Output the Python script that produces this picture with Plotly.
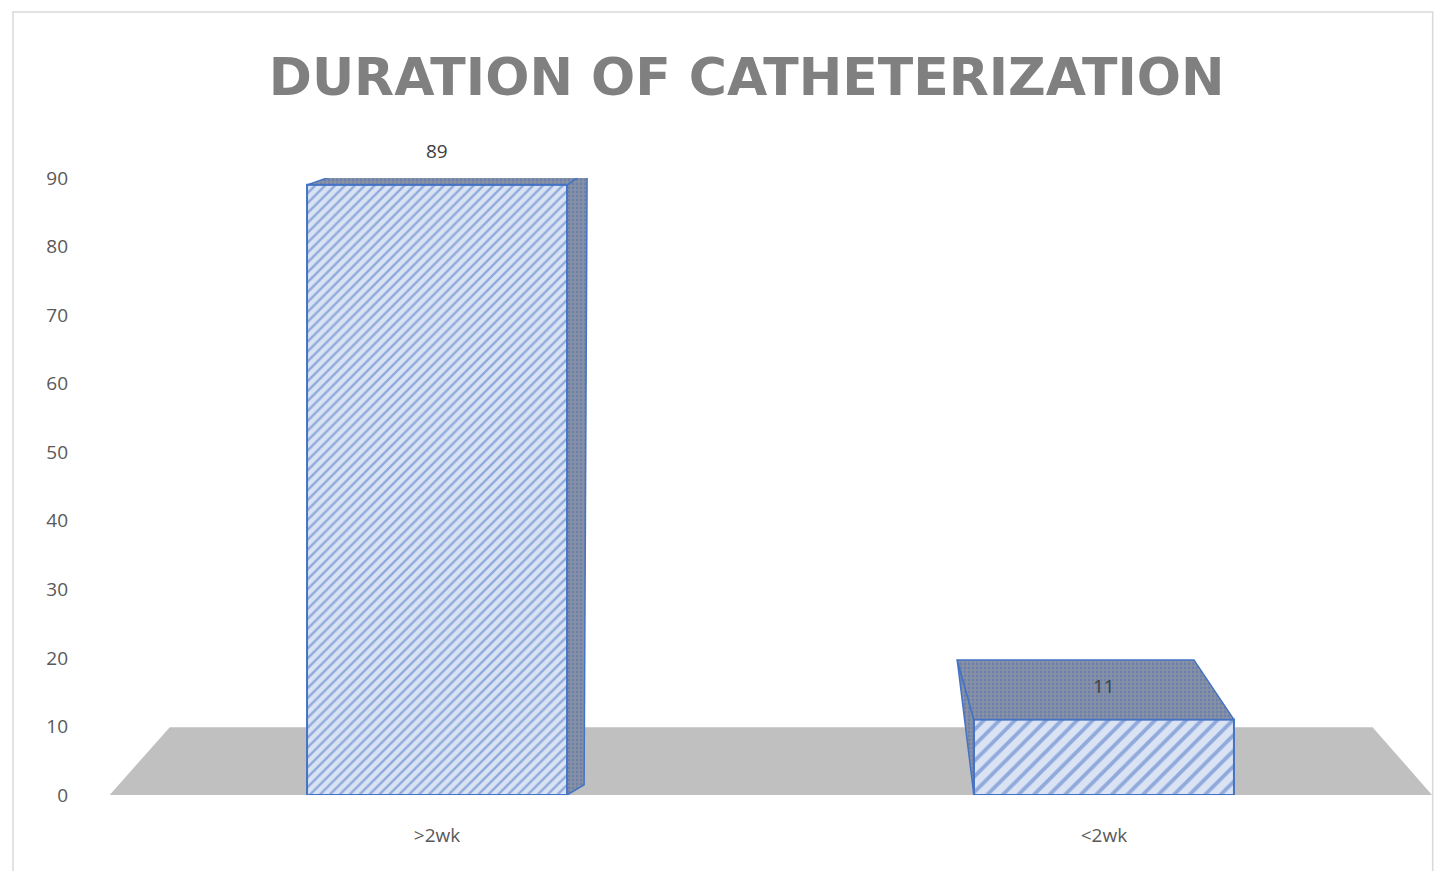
import plotly.graph_objects as go

categories = [">2wk", "<2wk"]
values = [89, 11]
y_ticks = [0, 10, 20, 30, 40, 50, 60, 70, 80, 90]

# style constants for the pseudo-3D look
BAR_W = 0.39
BLUE = "#4472c4"
FACE_BG = "#dae3f3"
DARK_BG = "#8a92a3"
# per bar: (back-left dx, back-right dx, back dy in value units, side: +1 right / -1 left)
DEPTH = [(0.06, 0.03, 2.0, 1), (-0.025, -0.06, 8.7, -1)]

xs = list(range(len(categories)))

fig = go.Figure()
fig.add_trace(go.Bar(
    x=xs, y=values, width=BAR_W,
    marker=dict(
        color=FACE_BG,
        line=dict(color=BLUE, width=2),
        pattern=dict(shape="/", fgcolor=BLUE, bgcolor=FACE_BG, size=[7, 11], solidity=0.35),
    ),
    hoverinfo="x+y",
))

# top and side faces derived from each bar's value
for x, v, (dl, dr, dy, side) in zip(xs, values, DEPTH):
    xl, xr = x - BAR_W / 2, x + BAR_W / 2
    top_x = [xl, xr, xr + dr, xl + dl, xl]
    top_y = [v, v, v + dy, v + dy, v]
    if side > 0:
        side_x = [xr, xr + dr, xr + dr * 0.85, xr, xr]
        side_y = [v, v + dy, 1.5, 0, v]
    else:
        side_x = [xl, xl + dl, xl, xl]
        side_y = [v, v + dy, 0, v]
    for fx, fy in ((side_x, side_y), (top_x, top_y)):
        fig.add_trace(go.Scatter(
            x=fx, y=fy, mode="lines", fill="toself",
            fillpattern=dict(shape=".", fgcolor="#4a6fb8", bgcolor=DARK_BG, size=4, solidity=0.4),
            line=dict(color=BLUE, width=1.5), hoverinfo="skip",
        ))

# value labels
for x, v in zip(xs, values):
    fig.add_annotation(x=x, y=v, text=str(v), showarrow=False, yanchor="bottom", yshift=19,
                       font=dict(family="Open Sans", size=19, color="#404040"))

# gray floor (decorative)
fig.add_shape(type="path", xref="paper", yref="y", layer="below",
              path="M 0.011 0 L 1.0015 0 L 0.957 9.9 L 0.056 9.9 Z",
              fillcolor="#c0c0c0", line=dict(width=0))
# outer border
fig.add_shape(type="rect", xref="paper", yref="paper",
              x0=-0.0614, x1=1.002, y0=-0.3, y1=1.269,
              line=dict(color="#d9d9d9", width=1.5), fillcolor="rgba(0,0,0,0)")

fig.update_layout(
    width=1426, height=863,
    paper_bgcolor="white", plot_bgcolor="white",
    margin=dict(l=87, r=4, t=170, b=76),
    title=dict(text="DURATION OF CATHETERIZATION", x=0.518, xanchor="center",
               y=0.92, yanchor="middle",
               font=dict(family="DejaVu Sans", size=52, color="#808080", weight="bold")),
    showlegend=False,
)
fig.update_yaxes(range=[0, 90], tickvals=y_ticks, showgrid=False, zeroline=False,
                 showline=False, ticks="", ticklabelstandoff=26,
                 tickfont=dict(family="Open Sans", size=19, color="#595959"))
fig.update_xaxes(range=[-0.513, 1.489], tickvals=xs, ticktext=categories,
                 showgrid=False, zeroline=False, showline=False, ticks="",
                 ticklabelstandoff=27,
                 tickfont=dict(family="Open Sans", size=19, color="#595959"))

fig.write_html("out.html")
